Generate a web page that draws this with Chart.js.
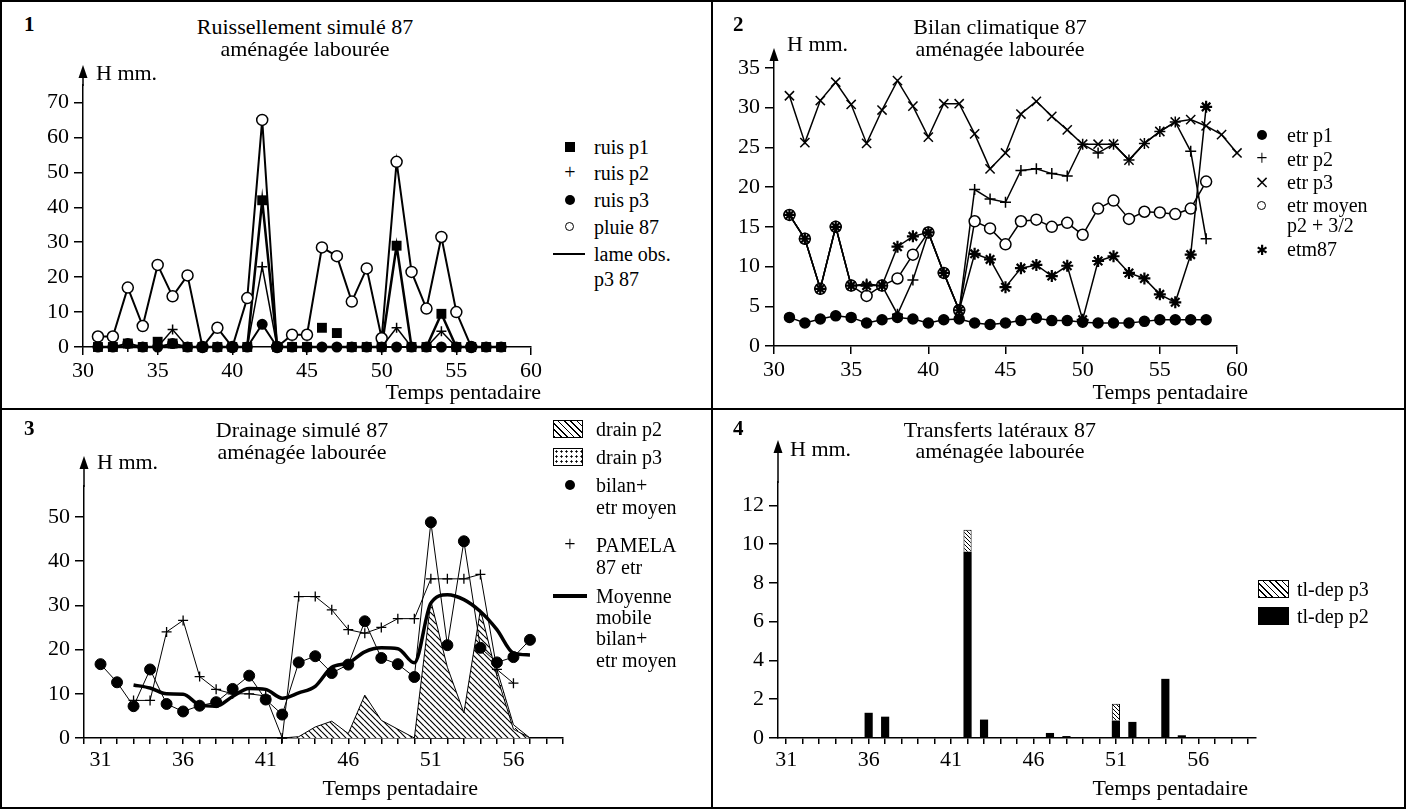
<!DOCTYPE html>
<html><head><meta charset="utf-8">
<script src="https://cdn.jsdelivr.net/npm/chart.js@4.4.1/dist/chart.umd.min.js"></script>
<style>
html,body{margin:0;padding:0;background:#fff}
#page{position:relative;width:1406px;height:809px;overflow:hidden;background:#fff;font-family:'Liberation Serif','Times New Roman',serif;color:#000}
canvas{position:absolute}
.t{position:absolute;white-space:nowrap;line-height:1}
.r{position:absolute;background:#000}
</style></head>
<body><div id="page">
<canvas id="c1" width="532" height="344" style="left:21px;top:53px"></canvas>
<canvas id="c2" width="547" height="366" style="left:712px;top:30px"></canvas>
<canvas id="c3" width="561" height="345" style="left:22px;top:438px"></canvas>
<canvas id="c4" width="560" height="351" style="left:716px;top:432px"></canvas>
<div class="r" style="left:0;top:0;width:1406px;height:2px"></div>
<div class="r" style="left:0;top:807px;width:1406px;height:2px"></div>
<div class="r" style="left:0;top:0;width:2px;height:809px"></div>
<div class="r" style="left:1404px;top:0;width:2px;height:809px"></div>
<div class="r" style="left:711px;top:0;width:2px;height:809px"></div>
<div class="r" style="left:0;top:408px;width:1406px;height:2px"></div>
</div>
<script>
// ================= DATA =================
// Panel 1 : Ruissellement simulé 87
const p1X      = [31,32,33,34,35,36,37,38,39,40,41,42,43,44,45,46,47,48,49,50,51,52,53,54,55,56,57,58];
const ruisP1   = [0,0,1,0,1.5,1,0,0,0,0,0,42,0,0,0,5.5,4,0,0,0,29,0,0,9.5,0,0,0,0];
const ruisP2   = [0,0,0,0,0,5,0,0,0,0,0,23,0,0,0,0,0,0,0,0,5.5,0,0,4.5,0,0,0,0];
const ruisP3   = [0,0,1,0,0,1,0,0,0,0,0,6.5,0,0,0,0,0,0,0,0,0,0,0,0,0,0,0,0];
const lameObs  = [0,0,0,0,0,0,0,0,0,0,0,42,0,0,0,0,0,0,0,0,29,0,0,9.5,0,0,0,0];
const pluieX   = [31,32,33,34,35,36,37,38,39,40,41,42,43,44,45,46,47,48,49,50,51,52,53,54,55,56];
const pluie87  = [3,3,17,6,23.5,14.5,20.5,0,5.5,0,14,65,0,3.5,3.5,28.5,26,13,22.5,2.5,53,21.5,11,31.5,10,0];

// Panel 2 : Bilan climatique 87
const p2X      = [31,32,33,34,35,36,37,38,39,40,41,42,43,44,45,46,47,48,49,50,51,52,53,54,55,56,57,58];
const p2X3     = [31,32,33,34,35,36,37,38,39,40,41,42,43,44,45,46,47,48,49,50,51,52,53,54,55,56,57,58,59,60];
const etrP1    = [3.6,2.9,3.4,3.8,3.6,2.9,3.3,3.6,3.4,2.9,3.3,3.4,2.9,2.7,2.9,3.2,3.5,3.2,3.2,3.0,2.9,2.9,2.9,3.1,3.3,3.3,3.3,3.3];
const etrP2    = [16.5,13.5,7.2,15,7.6,7.8,7.6,4,8.3,14.3,9.2,4.5,19.7,18.5,18.1,22.1,22.3,21.7,21.4,25.4,24.3,25.4,23.4,25.5,27,28.2,24.5,13.5];
const etrP3    = [31.5,25.6,30.9,33.2,30.4,25.5,29.7,33.4,30.2,26.3,30.5,30.5,26.7,22.3,24.3,29.2,30.8,28.9,27.2,25.4,25.4,25.4,23.4,25.5,27,28.2,28.5,27.7,26.6,24.3];
const etrMoyen = [16.5,13.5,7.2,15,7.6,6.3,7.6,8.5,11.5,14.3,9.2,4.5,15.7,14.8,12.8,15.7,15.9,15.0,15.5,14.0,17.3,18.3,16.0,16.9,16.8,16.6,17.3,20.7];
const etm87    = [16.5,13.5,7.2,15,7.6,7.6,7.6,12.5,13.8,14.3,9.2,4.5,11.6,10.9,7.4,9.8,10.2,8.8,10.1,3.3,10.7,11.3,9.2,8.5,6.5,5.5,11.5,30.1];

// Panel 3 : Drainage simulé 87
const bilanX   = [31,32,33,34,35,36,37,38,39,40,41,42,43,44,45,46,47,48,49,50,51,52,53,54,55,56,57];
const bilanEtr = [16.7,12.6,7.2,15.5,7.7,6.0,7.3,8.1,11.1,14.1,8.7,5.3,17.1,18.5,14.7,16.6,26.4,18.1,16.7,13.8,48.8,21,44.5,20.4,17.1,18.3,22.2];
const pamelaX  = [33,34,35,36,37,38,39,40,41,42,43,44,45,46,47,48,49,50,51,52,53,54,55,56];
const pamela87 = [8.5,8.5,24,26.6,13.9,11,10,10,9.5,0,32,32,29,24.5,23.7,25,27,27,36,36,36,37,15.5,12.4];
const moyMobX  = [33,34,35,36,37,38,39,40,41,42,43,44,45,46,47,48,49,50,51,52,53,54,55,56,57];
const moyMob   = [12,11.3,10,9.9,7.5,7.2,9.4,11.2,11,9,10.2,11.7,16,17,19.5,20.4,20.2,17,30.5,32.4,31.3,28.6,24.5,19.2,18.8];
const drainP2X = [42,43,44,45,46,47,48,49,50,51,52,53,54,55,56,57];
const drainP2  = [0,0.3,2.5,3.8,1,9.7,4,2,0,31,16,5.7,29,14,2,0];
const drainP3X = [50,51,52,53,54,55,56,57];
const drainP3  = [0,0,0,0,14,15.5,3,0];

// Panel 4 : Transferts latéraux 87
const p4Cats   = ['31','32','33','34','35','36','37','38','39','40','41','42','43','44','45','46','47','48','49','50','51','52','53','54','55','56','57','58','59'];
const tlDepP2  = [0,0,0,0,0,1.3,1.1,0,0,0,0,9.6,0.95,0,0,0,0.26,0.1,0,0,0.9,0.83,0,3.05,0.14,0,0,0,0];
const tlDepP3  = [0,0,0,0,0,0,0,0,0,0,0,1.14,0,0,0,0,0,0,0,0,0.86,0,0,0,0,0,0,0,0];

// ================= HELPERS =================
const SERIF = "'Liberation Serif','Times New Roman',serif";
Chart.defaults.font.family = SERIF;
Chart.defaults.color = '#000';
Chart.defaults.animation = false;
Chart.defaults.events = [];
Chart.defaults.plugins.legend.display = false;
Chart.defaults.plugins.tooltip.enabled = false;

const xy = (xs, ys) => ys.map((v, i) => ({x: xs[i], y: v}));

function hatchPattern(s, lw, bg) {
  const c = document.createElement('canvas'); c.width = s; c.height = s;
  const g = c.getContext('2d');
  if (bg) { g.fillStyle = bg; g.fillRect(0, 0, s, s); }
  g.strokeStyle = '#000'; g.lineWidth = lw; g.beginPath();
  for (let k = -1; k <= 1; k++) { g.moveTo(0, k * s); g.lineTo(s, s + k * s); }
  g.stroke();
  return g.createPattern(c, 'repeat');
}
function stipplePattern() {
  const c = document.createElement('canvas'); c.width = 12; c.height = 12;
  const g = c.getContext('2d');
  g.fillStyle = '#fff'; g.fillRect(0, 0, 12, 12);
  g.strokeStyle = '#000'; g.lineWidth = 1; g.beginPath();
  g.moveTo(1, 2); g.lineTo(4, 5); g.moveTo(7, 1); g.lineTo(9, 4); g.moveTo(5, 8); g.lineTo(8, 10);
  g.stroke(); g.fillStyle = '#000'; g.fillRect(10, 7, 1.5, 1.5); g.fillRect(2, 9, 1.5, 1.5);
  return g.createPattern(c, 'repeat');
}

const arrowPlugin = {
  id: 'yarrow',
  afterDraw(chart, args, opts) {
    const {ctx, chartArea} = chart;
    const x = chartArea.left, tip = chartArea.top - opts.extra;
    ctx.save(); ctx.strokeStyle = '#000'; ctx.fillStyle = '#000'; ctx.lineWidth = 1.5;
    ctx.beginPath(); ctx.moveTo(x, chartArea.top + 1); ctx.lineTo(x, tip + 8); ctx.stroke();
    ctx.beginPath(); ctx.moveTo(x, tip); ctx.lineTo(x - 4.5, tip + 13); ctx.lineTo(x + 4.5, tip + 13); ctx.closePath(); ctx.fill();
    ctx.restore();
  }
};

const TICKFONT = {family: SERIF, size: 22};
function yAxis(max, step, topTick) {
  return {
    type: 'linear', min: 0, max: max,
    afterBuildTicks: s => { s.ticks = s.ticks.filter(t => t.value <= topTick + 1e-9 && Math.abs(t.value / step - Math.round(t.value / step)) < 1e-6); },
    afterFit: s => { s.width = 62; },
    border: {display: true, color: '#000', width: 1.5},
    grid: {drawOnChartArea: false, drawTicks: true, tickLength: 9, color: '#000', lineWidth: 1.5},
    ticks: {stepSize: step, includeBounds: false, font: TICKFONT, color: '#000', padding: 5}
  };
}
function xLinear(min, max, step, cb, h, tl) {
  return {
    type: 'linear', min: min, max: max,
    afterFit: s => { s.height = h; },
    border: {display: true, color: '#000', width: 1.5},
    grid: {drawOnChartArea: false, drawTicks: true, tickLength: tl, color: '#000', lineWidth: 1.5},
    ticks: {stepSize: step, includeBounds: false, autoSkip: false, maxRotation: 0, font: TICKFONT, color: '#000', padding: 3, callback: cb}
  };
}
const everyFive = v => ((v - 31) % 5 === 0 ? String(v) : '');

// ================= PANEL 1 =================
new Chart(document.getElementById('c1'), {
  type: 'line',
  data: {datasets: [
    {label: 'ruis p1', data: xy(p1X, ruisP1), showLine: false, clip: false, pointStyle: 'rect', pointRadius: 7, pointBackgroundColor: '#000', pointBorderColor: '#000', pointBorderWidth: 0},
    {label: 'ruis p3', data: xy(p1X, ruisP3), clip: false, borderColor: '#000', borderWidth: 2, pointStyle: 'circle', pointRadius: 4.5, pointBackgroundColor: '#000', pointBorderColor: '#000'},
    {label: 'ruis p2', data: xy(p1X, ruisP2), clip: false, borderColor: '#000', borderWidth: 1.5, pointStyle: 'cross', pointRadius: 5, pointBorderColor: '#000', pointBorderWidth: 1.5},
    {label: 'pluie 87', data: xy(pluieX, pluie87), clip: false, borderColor: '#000', borderWidth: 2, pointStyle: 'circle', pointRadius: 5.5, pointBackgroundColor: '#fff', pointBorderColor: '#000', pointBorderWidth: 1.5},
    {label: 'lame obs. p3 87', data: xy(p1X, lameObs), clip: false, borderColor: '#000', borderWidth: 2.5, pointRadius: 0}
  ]},
  options: {
    responsive: false,
    layout: {padding: {top: 32, right: 22, left: 0, bottom: 0}},
    scales: {x: xLinear(30, 60, 5, v => String(v), 50, 8), y: yAxis(75, 10, 70)},
    plugins: {yarrow: {extra: 20}}
  },
  plugins: [arrowPlugin]
});

// ================= PANEL 2 =================
new Chart(document.getElementById('c2'), {
  type: 'line',
  data: {datasets: [
    {label: 'etr p1', data: xy(p2X, etrP1), clip: false, borderColor: '#000', borderWidth: 1.5, pointStyle: 'circle', pointRadius: 5, pointBackgroundColor: '#000', pointBorderColor: '#000'},
    {label: 'etm87', data: xy(p2X, etm87), clip: false, borderColor: '#000', borderWidth: 1.5, pointStyle: 'star', pointRadius: 6, pointBorderColor: '#000', pointBorderWidth: 2.2},
    {label: 'etr moyen p2 + 3/2', data: xy(p2X, etrMoyen), clip: false, borderColor: '#000', borderWidth: 1.5, pointStyle: 'circle', pointRadius: 5.5, pointBackgroundColor: '#fff', pointBorderColor: '#000', pointBorderWidth: 1.5},
    {label: 'etr p2', data: xy(p2X, etrP2), clip: false, borderColor: '#000', borderWidth: 1.5, pointStyle: 'cross', pointRadius: 5.5, pointBorderColor: '#000', pointBorderWidth: 1.5},
    {label: 'etr p3', data: xy(p2X3, etrP3), clip: false, borderColor: '#000', borderWidth: 1.5, pointStyle: 'crossRot', pointRadius: 6.5, pointBorderColor: '#000', pointBorderWidth: 1.5}
  ]},
  options: {
    responsive: false,
    layout: {padding: {top: 30, right: 22, left: 0, bottom: 0}},
    scales: {x: xLinear(30, 60, 5, v => String(v), 50, 8), y: yAxis(36, 5, 35)},
    plugins: {yarrow: {extra: 12}}
  },
  plugins: [arrowPlugin]
});

// ================= PANEL 3 =================
new Chart(document.getElementById('c3'), {
  type: 'line',
  data: {datasets: [
    {label: 'bilan+ etr moyen', data: xy(bilanX, bilanEtr), clip: false, borderColor: '#000', borderWidth: 1, pointStyle: 'circle', pointRadius: 5.5, pointBackgroundColor: '#000', pointBorderColor: '#000'},
    {label: 'PAMELA 87 etr', data: xy(pamelaX, pamela87), clip: false, borderColor: '#000', borderWidth: 1, pointStyle: 'cross', pointRadius: 5, pointBorderColor: '#000', pointBorderWidth: 1.3},
    {label: 'Moyenne mobile', data: xy(moyMobX, moyMob), clip: false, borderColor: '#000', borderWidth: 3.5, pointRadius: 0, tension: 0.4, cubicInterpolationMode: 'monotone'},
    {label: 'drain p2', data: xy(drainP2X, drainP2), clip: false, borderColor: '#000', borderWidth: 1, pointRadius: 0, fill: 'origin', backgroundColor: hatchPattern(6, 1.2, '#fff')},
    {label: 'drain p3', data: xy(drainP3X, drainP3), clip: false, borderColor: '#000', borderWidth: 1, pointRadius: 0, fill: 'origin', backgroundColor: stipplePattern()}
  ]},
  options: {
    responsive: false,
    layout: {padding: {top: 48, right: 20, left: 0, bottom: 0}},
    scales: {x: xLinear(30, 59, 1, everyFive, 45, 6), y: yAxis(57, 10, 50)},
    plugins: {yarrow: {extra: 30}}
  },
  plugins: [arrowPlugin]
});

// ================= PANEL 4 =================
new Chart(document.getElementById('c4'), {
  type: 'bar',
  data: {labels: p4Cats, datasets: [
    {label: 'tl-dep p2', data: tlDepP2, backgroundColor: '#000', borderWidth: 0, barPercentage: 0.55, categoryPercentage: 0.9},
    {label: 'tl-dep p3', data: tlDepP3, backgroundColor: hatchPattern(4, 1, '#fff'), borderColor: '#000', borderWidth: 1, barPercentage: 0.55, categoryPercentage: 0.9}
  ]},
  options: {
    responsive: false,
    layout: {padding: {top: 50, right: 20, left: 0, bottom: 0}},
    scales: {
      x: {type: 'category', offset: true, stacked: true,
          afterFit: s => { s.height = 45; },
          border: {display: true, color: '#000', width: 1.5},
          grid: {offset: false, drawOnChartArea: false, drawTicks: true, tickLength: 6, color: '#000', lineWidth: 1.5},
          ticks: {autoSkip: false, maxRotation: 0, font: TICKFONT, color: '#000', padding: 3, callback: (v, i) => (i % 5 === 0 ? p4Cats[i] : '')}},
      y: Object.assign(yAxis(13.2, 2, 12), {stacked: true})
    },
    plugins: {yarrow: {extra: 42}}
  },
  plugins: [arrowPlugin]
});

// ================= TEXT & LEGENDS =================
const page = document.getElementById('page');
function T(s, x, y, size, align, bold, fam) {
  const d = document.createElement('div'); d.className = 't'; d.textContent = s;
  d.style.left = x + 'px'; d.style.top = y + 'px'; d.style.fontSize = size + 'px';
  if (bold) d.style.fontWeight = 'bold';
  if (fam) d.style.fontFamily = fam;
  const tx = align === 'center' ? '-50%' : (align === 'right' ? '-100%' : '0');
  d.style.transform = 'translate(' + tx + ',-50%)';
  page.appendChild(d); return d;
}
function B(x, y, w, h, css) {
  const d = document.createElement('div'); d.style.position = 'absolute';
  d.style.left = x + 'px'; d.style.top = y + 'px'; d.style.width = w + 'px'; d.style.height = h + 'px';
  d.style.cssText += ';' + css; page.appendChild(d); return d;
}
const sq = (x, y) => B(x - 5, y - 5, 10, 10, 'background:#000');
const dot = (x, y) => B(x - 5, y - 5, 10, 10, 'background:#000;border-radius:50%');
const ring = (x, y) => B(x - 5, y - 5, 7, 7, 'border:1.5px solid #000;border-radius:50%;background:#fff');
const HATCH = 'background:repeating-linear-gradient(45deg,#000 0 1.2px,#fff 1.2px 4.5px);border:1.5px solid #000;box-sizing:border-box';
const STIP = 'background:radial-gradient(#000 0.9px,transparent 1.3px) 0 0/5px 5px,#fff;border:1.5px solid #000;box-sizing:border-box';

// Panel 1
T('1', 24, 24, 21, 'left', true);
T('Ruissellement simulé 87', 305, 27, 22, 'center');
T('aménagée labourée', 305, 49, 22, 'center');
T('H mm.', 96, 73, 22, 'left');
T('Temps pentadaire', 541, 392, 22, 'right');
sq(570, 147); T('ruis p1', 594, 147, 20, 'left');
T('+', 570, 172, 20, 'center'); T('ruis p2', 594, 173, 20, 'left');
dot(570, 200); T('ruis p3', 594, 200, 20, 'left');
ring(570, 227); T('pluie 87', 594, 227, 20, 'left');
B(553, 253, 32, 2, 'background:#000'); T('lame obs.', 594, 254, 20, 'left');
T('p3 87', 594, 279, 20, 'left');

// Panel 2
T('2', 733, 24, 21, 'left', true);
T('Bilan climatique 87', 1000, 27, 22, 'center');
T('aménagée labourée', 1000, 49, 22, 'center');
T('H mm.', 787, 44, 22, 'left');
T('Temps pentadaire', 1248, 392, 22, 'right');
dot(1262, 135); T('etr p1', 1287, 135, 20, 'left');
T('+', 1262, 158, 20, 'center'); T('etr p2', 1287, 159, 20, 'left');
T('×', 1262, 182, 18, 'center', false, "'DejaVu Sans'"); T('etr p3', 1287, 182, 20, 'left');
ring(1262, 206); T('etr moyen', 1287, 205, 20, 'left');
T('p2 + 3/2', 1287, 225, 20, 'left');
T('✱', 1262, 250, 14, 'center', false, "'DejaVu Sans'"); T('etm87', 1287, 249, 20, 'left');

// Panel 3
T('3', 24, 428, 21, 'left', true);
T('Drainage simulé 87', 302, 430, 22, 'center');
T('aménagée labourée', 302, 452, 22, 'center');
T('H mm.', 97, 462, 22, 'left');
T('Temps pentadaire', 478, 788, 22, 'right');
B(553, 420, 30, 18, HATCH); T('drain p2', 596, 429, 20, 'left');
B(553, 448, 30, 18, STIP); T('drain p3', 596, 457, 20, 'left');
dot(570, 485); T('bilan+', 596, 485, 20, 'left'); T('etr moyen', 596, 507, 20, 'left');
T('+', 570, 544, 20, 'center'); T('PAMELA', 596, 545, 20, 'left'); T('87 etr', 596, 567, 20, 'left');
B(553, 594, 34, 3.5, 'background:#000'); T('Moyenne', 596, 596, 20, 'left'); T('mobile', 596, 617, 20, 'left');
T('bilan+', 596, 638, 20, 'left'); T('etr moyen', 596, 660, 20, 'left');

// Panel 4
T('4', 733, 428, 21, 'left', true);
T('Transferts latéraux 87', 1000, 430, 22, 'center');
T('aménagée labourée', 1000, 451, 22, 'center');
T('H mm.', 790, 449, 22, 'left');
T('Temps pentadaire', 1248, 788, 22, 'right');
B(1258, 580, 31, 18, HATCH); T('tl-dep p3', 1297, 589, 20, 'left');
B(1258, 607, 31, 18, 'background:#000'); T('tl-dep p2', 1297, 616, 20, 'left');
</script>
</body></html>
